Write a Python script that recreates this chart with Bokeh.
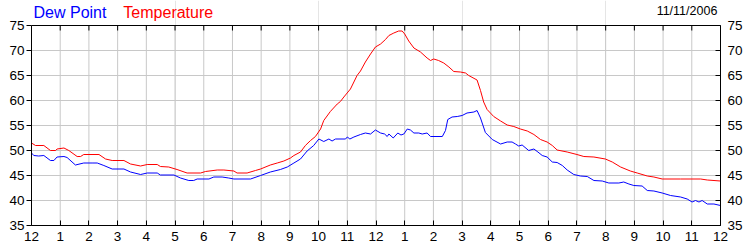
from bokeh.plotting import figure
from bokeh.models import LinearAxis, FixedTicker, Grid, Range1d
from bokeh.core.properties import value
from bokeh.embed import file_html
from bokeh.resources import INLINE

# ---- data (hours after midnight, degrees F) ----
temp_hours = [0, 0.14, 0.43, 0.66, 0.84, 0.89, 1.13, 1.30, 1.59, 1.71, 1.82, 2.35, 2.58, 2.81,
              3.22, 3.45, 3.80, 4.03, 4.38, 4.49, 4.78, 5.07, 5.42, 5.89, 6.06, 6.47, 6.70, 7.05,
              7.16, 7.51, 7.80, 7.98, 8.32, 8.56, 8.79, 9.02, 9.14, 9.37, 9.54, 9.72, 9.89, 10.07,
              10.18, 10.41, 10.65, 10.76, 10.88, 11.11, 11.34, 11.46, 11.63, 11.81, 11.98, 12.16,
              12.33, 12.45, 12.62, 12.79, 12.91, 13.0, 13.14, 13.32, 13.55, 13.78, 13.90, 14.01,
              14.18, 14.36, 14.54, 14.71, 14.94, 15.12, 15.23, 15.52, 15.64, 15.75, 15.87, 16.10,
              16.34, 16.57, 16.80, 17.03, 17.27, 17.50, 17.73, 17.96, 18.14, 18.31, 18.66, 19.0,
              19.24, 19.59, 19.99, 20.23, 20.52, 20.86, 21.10, 21.45, 21.68, 21.97, 22.61, 23.31,
              23.54, 24.0]
temp_values = [51.5, 51.0, 51.0, 50.0, 50.0, 50.3, 50.5, 50.0, 48.8, 48.8, 49.2, 49.2, 48.3, 48.0,
               48.0, 47.3, 46.9, 47.2, 47.2, 46.8, 46.7, 46.2, 45.5, 45.5, 45.8, 46.1, 46.1, 45.9,
               45.5, 45.5, 46.0, 46.3, 47.1, 47.5, 47.9, 48.5, 49.0, 49.7, 51.0, 52.0, 52.8, 54.3,
               56.0, 57.8, 59.3, 59.8, 60.7, 62.3, 65.0, 65.9, 67.7, 69.3, 70.7, 71.3,
               72.2, 73.0, 73.5, 73.9, 73.9, 73.3, 71.9, 70.5, 69.7, 68.5, 68.0, 68.3,
               68.0, 67.5, 66.7, 65.8, 65.7, 65.5, 65.0, 64.1, 62.0, 59.7, 58.2, 56.8,
               55.9, 55.1, 54.8, 54.3, 53.9, 53.2, 52.2, 51.7, 51.0, 50.1, 49.7, 49.2,
               48.8, 48.7, 48.3, 47.7, 46.7, 45.9, 45.5, 44.9, 44.7, 44.3, 44.3, 44.3,
               44.1, 43.9]

dew_hours = [0, 0.08, 0.25, 0.43, 0.66, 0.78, 0.89, 1.13, 1.24, 1.53, 1.82, 2.11, 2.29, 2.52,
             2.81, 3.22, 3.45, 3.80, 4.03, 4.38, 4.49, 4.96, 5.19, 5.48, 5.65, 5.77, 6.18, 6.35,
             6.64, 6.87, 7.05, 7.63, 7.98, 8.32, 8.67, 8.91, 9.14, 9.37, 9.60, 9.83, 10.01, 10.18,
             10.36, 10.47, 10.59, 10.94, 11.0, 11.09, 11.23, 11.46, 11.63, 11.81, 11.98, 12.16,
             12.30, 12.39, 12.45, 12.60, 12.76, 12.87, 12.97, 13.09, 13.20, 13.32, 13.49, 13.61,
             13.78, 13.90, 14.31, 14.42, 14.50, 14.65, 14.83, 15.0, 15.17, 15.41, 15.52, 15.64,
             15.81, 16.05, 16.34, 16.57, 16.74, 16.86, 16.97, 17.09, 17.32, 17.50, 17.64, 17.79,
             17.96, 18.14, 18.31, 18.49, 18.66, 18.89, 19.12, 19.36, 19.59, 19.88, 20.11, 20.46,
             20.63, 20.81, 20.98, 21.27, 21.45, 21.68, 21.97, 22.26, 22.61, 22.84, 23.01, 23.13,
             23.25, 23.36, 23.54, 23.77, 24.0]
dew_values = [49.5, 49.0, 48.9, 49.0, 48.0, 48.0, 48.7, 48.8, 48.6, 47.1, 47.5, 47.5, 47.5, 47.0,
              46.3, 46.3, 45.7, 45.2, 45.5, 45.5, 45.1, 45.1, 44.5, 44.0, 44.0, 44.3, 44.3, 44.7,
              44.7, 44.5, 44.3, 44.3, 45.0, 45.7, 46.2, 46.7, 47.5, 48.3, 49.9, 51.0, 52.3, 51.8,
              52.3, 51.9, 52.3, 52.3, 52.7, 52.3, 52.7, 53.2, 53.5, 53.3, 54.1, 53.5,
              53.3, 52.8, 53.3, 52.5, 53.5, 53.1, 53.3, 54.3, 54.1, 53.5, 53.5, 53.3,
              53.5, 52.8, 52.8, 54.0, 56.2, 56.7, 56.8, 57.0, 57.5, 57.7, 58.0, 56.5,
              53.6, 52.2, 51.3, 51.7, 51.7, 51.3, 50.9, 51.1, 50.0, 50.3, 49.7, 49.0,
              48.7, 47.7, 47.6, 47.0, 46.1, 45.2, 44.9, 44.8, 44.0, 43.9, 43.5, 43.5,
              43.7, 43.3, 43.0, 42.9, 42.0, 41.9, 41.5, 41.0, 40.7, 40.3, 39.7, 40.0,
              39.7, 40.0, 39.3, 39.3, 39.0]

x_ticks = list(range(0, 25))
x_tick_labels = ["12", "1", "2", "3", "4", "5", "6", "7", "8", "9", "10", "11",
                 "12", "1", "2", "3", "4", "5", "6", "7", "8", "9", "10", "11", "12"]
y_ticks = [35, 40, 45, 50, 55, 60, 65, 70, 75]
date_text = "11/11/2006"
series_names = ["Dew Point", "Temperature"]

FONT = "Liberation Sans"
TICK_SIZE = "13.5px"
Y_MIN, Y_MAX = y_ticks[0], y_ticks[-1]
X_MIN, X_MAX = x_ticks[0], x_ticks[-1]
HEAD = 5  # extra value-units of headroom above the plot box that hold the header texts
TICK_LEN = 1  # tick length in value units (5 px)

p = figure(width=750, height=250, output_backend="svg", toolbar_location=None, title=None,
           x_range=Range1d(X_MIN, X_MAX), y_range=Range1d(Y_MIN, Y_MAX + HEAD),
           x_axis_location=None, y_axis_location=None,
           min_border_left=31, min_border_right=30, min_border_top=0, min_border_bottom=25)
p.background_fill_color = "white"
p.border_fill_color = "white"
p.outline_line_color = None

xt = FixedTicker(ticks=x_ticks)
yt = FixedTicker(ticks=y_ticks)

# horizontal grid lines
p.add_layout(Grid(dimension=1, ticker=yt, grid_line_color="#C8C8C8", grid_line_width=1), "center")
# vertical grid lines, stopping at the top of the plot box
p.segment(x0=x_ticks, y0=[Y_MIN] * len(x_ticks), x1=x_ticks, y1=[Y_MAX] * len(x_ticks),
          line_color="#C8C8C8", line_width=1)


def style(ax, tin, tout, standoff):
    ax.axis_line_color = "black"
    ax.major_tick_line_color = "black"
    ax.minor_tick_line_color = None
    ax.major_tick_in = tin
    ax.major_tick_out = tout
    ax.major_label_standoff = standoff
    ax.major_label_text_font = FONT
    ax.major_label_text_font_size = TICK_SIZE
    ax.major_label_text_color = "black"


bottom = LinearAxis(ticker=xt)
bottom.major_label_overrides = {t: l for t, l in zip(x_ticks, x_tick_labels)}
style(bottom, 5, 0, 6)
p.add_layout(bottom, "below")

left = LinearAxis(ticker=yt, bounds=(Y_MIN, Y_MAX))
style(left, 0, 5, 2)
p.add_layout(left, "left")

right = LinearAxis(ticker=yt, bounds=(Y_MIN, Y_MAX))
style(right, 5, 0, 7)
p.add_layout(right, "right")

# data lines
p.line(temp_hours, temp_values, line_color="#FF0000", line_width=1)
p.line(dew_hours, dew_values, line_color="#0000FF", line_width=1)

# top edge of the plot box and its inward ticks
p.segment(x0=[X_MIN], y0=[Y_MAX], x1=[X_MAX], y1=[Y_MAX], line_color="black", line_width=1)
p.segment(x0=x_ticks, y0=[Y_MAX] * len(x_ticks), x1=x_ticks,
          y1=[Y_MAX - TICK_LEN] * len(x_ticks), line_color="black", line_width=1)

# header texts
p.text(x=[0.07], y=[77.7], text=[series_names[0]], text_color="#0000FF",
       text_font=value(FONT), text_font_size="16px", text_baseline="alphabetic",
       text_align="left")
p.text(x=[3.2], y=[77.7], text=[series_names[1]], text_color="#FF0000",
       text_font=value(FONT), text_font_size="16px", text_baseline="alphabetic",
       text_align="left")
p.text(x=[23.89], y=[77.9], text=[date_text], text_color="black",
       text_font=value(FONT), text_font_size="12.5px", text_baseline="alphabetic",
       text_align="right")

open("out.html", "w").write(file_html(p, INLINE))
